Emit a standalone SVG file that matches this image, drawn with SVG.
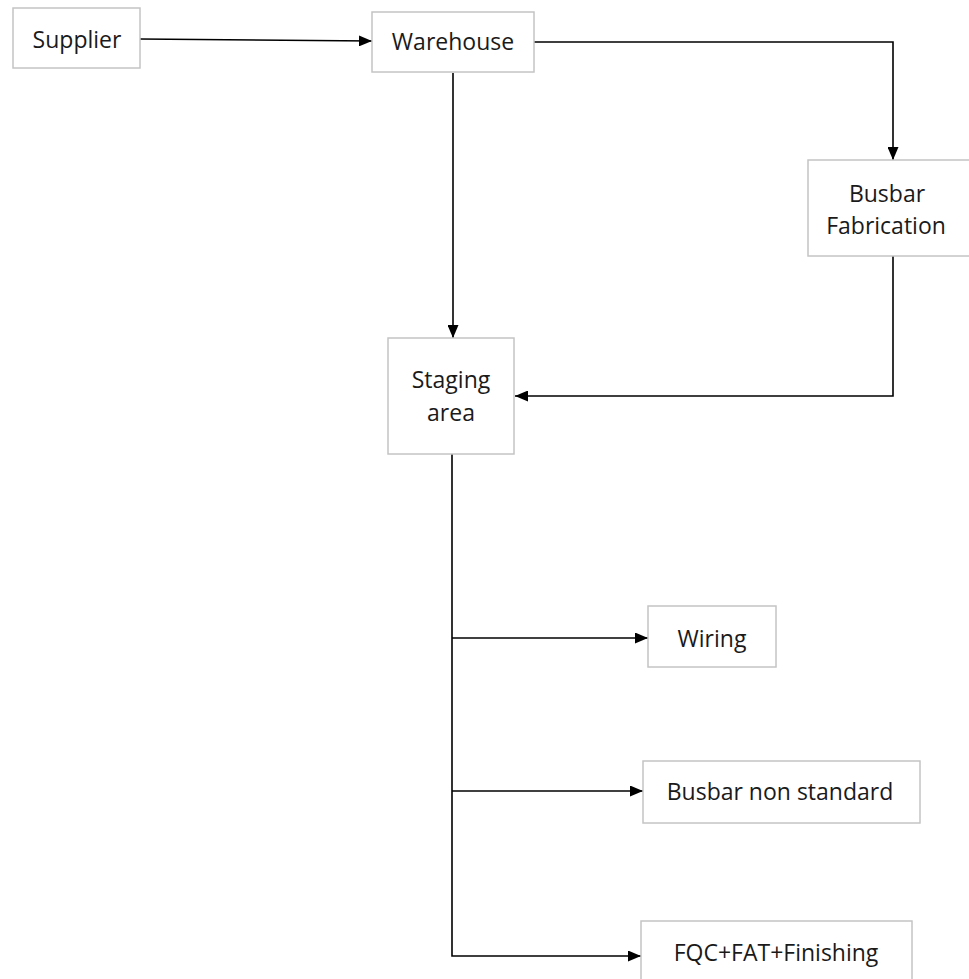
<svg xmlns="http://www.w3.org/2000/svg" width="969" height="979" viewBox="0 0 969 979">
  <style>
    .box { fill: #ffffff; stroke: #c4c4c4; stroke-width: 1.5; }
    .label { font-family: "Open Sans", "Liberation Sans", sans-serif; font-size: 23px; fill: #1a1a1a; text-anchor: middle; }
    .wire { fill: none; stroke: #000000; stroke-width: 1.6; marker-end: url(#arrow); }
  </style>
  <defs>
    <marker id="arrow" viewBox="0 0 13 11" refX="13" refY="5.5" markerWidth="13" markerHeight="11" markerUnits="userSpaceOnUse" orient="auto">
      <path d="M0,0 L13,5.5 L0,11 z" fill="#000000"/>
    </marker>
  </defs>
  <rect width="969" height="979" fill="#ffffff"/>

  <g id="connectors">
    <path class="wire" d="M140,39 L372,41"/>
    <path class="wire" d="M534,42 L893,42 L893,160"/>
    <path class="wire" d="M453,73 L453,338"/>
    <path class="wire" d="M893,256 L893,396 L515,396"/>
    <path class="wire" d="M452,638 L648,638"/>
    <path class="wire" d="M452,791 L643,791"/>
    <path class="wire" d="M452,454 L452,956 L641,956"/>
  </g>

  <g id="supplier">
    <rect class="box" x="13" y="8" width="127" height="60"/>
    <text class="label" x="77" y="48">Supplier</text>
  </g>
  <g id="warehouse">
    <rect class="box" x="372" y="12" width="162" height="60"/>
    <text class="label" x="453" y="50">Warehouse</text>
  </g>
  <g id="busbar-fabrication">
    <rect class="box" x="808" y="160" width="163" height="96"/>
    <text class="label" x="887" y="202">Busbar</text>
    <text class="label" x="886" y="234">Fabrication</text>
  </g>
  <g id="staging-area">
    <rect class="box" x="388" y="338" width="126" height="116"/>
    <text class="label" x="451" y="388">Staging</text>
    <text class="label" x="451" y="421">area</text>
  </g>
  <g id="wiring">
    <rect class="box" x="648" y="606" width="128" height="61"/>
    <text class="label" x="712" y="647">Wiring</text>
  </g>
  <g id="busbar-non-standard">
    <rect class="box" x="643" y="761" width="277" height="62"/>
    <text class="label" x="780" y="800">Busbar non standard</text>
  </g>
  <g id="fqc-fat-finishing">
    <rect class="box" x="641" y="921" width="271" height="70"/>
    <text class="label" x="776" y="961">FQC+FAT+Finishing</text>
  </g>
</svg>
